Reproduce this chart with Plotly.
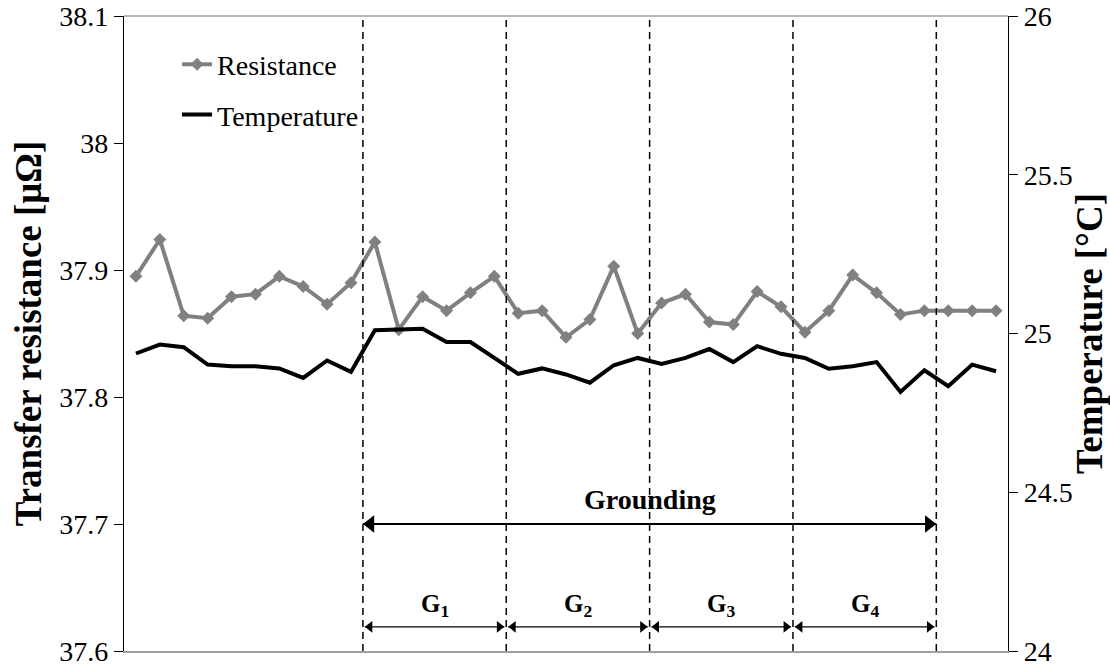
import plotly.graph_objects as go

# Measurement index (37 consecutive readings)
sample_idx = list(range(37))

# Transfer resistance [μΩ]
resistance = [37.895, 37.924, 37.864, 37.862, 37.879, 37.881, 37.895, 37.887, 37.873, 37.890,
              37.922, 37.853, 37.879, 37.868, 37.882, 37.895, 37.866, 37.868, 37.847, 37.861,
              37.903, 37.850, 37.874, 37.881, 37.859, 37.857, 37.883, 37.871, 37.851, 37.868,
              37.896, 37.882, 37.865, 37.868, 37.868, 37.868, 37.868]

# Temperature [°C]
temperature = [24.937, 24.965, 24.957, 24.902, 24.897, 24.897, 24.890, 24.860, 24.915, 24.879,
               25.010, 25.014, 25.015, 24.973, 24.973, 24.923, 24.873, 24.890, 24.871, 24.845,
               24.900, 24.923, 24.904, 24.923, 24.951, 24.910, 24.960, 24.936, 24.923, 24.889,
               24.897, 24.910, 24.816, 24.884, 24.834, 24.902, 24.881]

# Phase boundaries (between readings) and phase labels
boundaries = [9.5, 15.5, 21.5, 27.5, 33.5]
phase_labels = ["G<sub>1</sub>", "G<sub>2</sub>", "G<sub>3</sub>", "G<sub>4</sub>"]

left_ticks = [37.6, 37.7, 37.8, 37.9, 38.0, 38.1]
right_ticks = [24, 24.5, 25, 25.5, 26]

FONT = "Liberation Serif, Times New Roman, serif"
GRAY = "#808080"

W, H = 1110, 668
M = dict(l=124, r=102, t=16, b=17)
X_RANGE = [-0.5, 36.5]
px_per_unit = (W - M["l"] - M["r"]) / (X_RANGE[1] - X_RANGE[0])

fig = go.Figure()

fig.add_trace(go.Scatter(
    x=sample_idx, y=resistance, name="Resistance", mode="lines+markers",
    line=dict(color=GRAY, width=4),
    marker=dict(symbol="diamond", size=10, color=GRAY),
    legendgroup="r", yaxis="y",
))
fig.add_trace(go.Scatter(
    x=sample_idx, y=temperature, name="Temperature", mode="lines",
    line=dict(color="black", width=4),
    legendgroup="t", yaxis="y2",
))


def double_arrow(x0, x1, y, head, width):
    """Horizontal two-headed arrow whose tips touch x0 and x1."""
    inset = (head / 2) / px_per_unit
    fig.add_trace(go.Scatter(
        x=[x0, x1], y=[y, y], mode="lines", showlegend=False, hoverinfo="skip",
        line=dict(color="black", width=width), yaxis="y",
    ))
    fig.add_trace(go.Scatter(
        x=[x0 + inset, x1 - inset], y=[y, y], mode="markers", showlegend=False,
        hoverinfo="skip", yaxis="y",
        marker=dict(symbol=["triangle-left", "triangle-right"], size=head, color="black",
                    line=dict(width=0)),
    ))


# Dashed phase boundaries
for b in boundaries:
    fig.add_shape(type="line", xref="x", yref="paper", x0=b, x1=b, y0=0, y1=1,
                  line=dict(color="black", width=1.5, dash="7px,5px"))

# Top border of the plot area
fig.add_shape(type="line", xref="paper", yref="paper", x0=0, x1=1, y0=1, y1=1,
              line=dict(color="#a0a0a0", width=1.5))

annotations = []
# Overall grounding span
double_arrow(boundaries[0], boundaries[-1], 37.7, 15, 1.8)
annotations.append(dict(
    x=(boundaries[0] + boundaries[-1]) / 2, y=37.719, xref="x", yref="y",
    text="<b>Grounding</b>", showarrow=False,
    font=dict(family=FONT, size=28, color="black"),
))
# Individual phases
for i, lab in enumerate(phase_labels):
    x0, x1 = boundaries[i], boundaries[i + 1]
    double_arrow(x0 + 0.08, x1 - 0.08, 37.619, 10, 1.4)
    annotations.append(dict(
        x=(x0 + x1) / 2, y=37.636, xref="x", yref="y",
        text="<b>" + lab + "</b>", showarrow=False,
        font=dict(family=FONT, size=25, color="black"),
    ))

fig.update_layout(
    width=W, height=H,
    margin=M,
    paper_bgcolor="white", plot_bgcolor="white",
    font=dict(family=FONT, size=28, color="black"),
    showlegend=True,
    legend=dict(x=0.06, y=0.963, xanchor="left", yanchor="top",
                bgcolor="rgba(0,0,0,0)", tracegroupgap=11,
                font=dict(family=FONT, size=28, color="black")),
    xaxis=dict(range=X_RANGE, showgrid=False, zeroline=False, automargin=False,
               showticklabels=False, ticks="", showline=True,
               linecolor="#a0a0a0", linewidth=2),
    yaxis=dict(range=[37.6, 38.1], tickvals=left_ticks, automargin=False,
               ticktext=["37.6", "37.7", "37.8", "37.9", "38", "38.1"],
               showgrid=False, zeroline=False, showline=True, linecolor="black",
               linewidth=1.2, ticks="outside", ticklen=9, tickcolor="black",
               tickfont=dict(family=FONT, size=28),
               title=dict(text="<b>Transfer resistance [μΩ]</b>",
                          font=dict(family=FONT, size=37), standoff=6)),
    yaxis2=dict(range=[24, 26], tickvals=right_ticks, automargin=False,
                ticktext=["24", "24.5", "25", "25.5", "26"],
                overlaying="y", side="right",
                showgrid=False, zeroline=False, showline=True, linecolor="black",
                linewidth=1.2, ticks="outside", ticklen=9, tickcolor="black",
                tickfont=dict(family=FONT, size=28),
                title=dict(text="<b>Temperature [°C]</b>",
                           font=dict(family=FONT, size=37), standoff=8)),
    annotations=annotations,
)

fig.write_html("out.html")
